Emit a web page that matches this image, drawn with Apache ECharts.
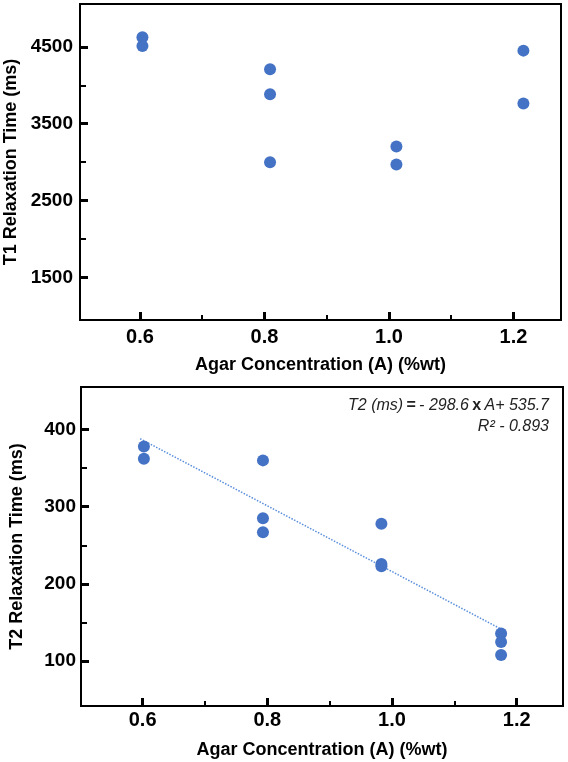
<!DOCTYPE html>
<html><head><meta charset="utf-8">
<script src="https://cdn.jsdelivr.net/npm/echarts@6/dist/echarts.min.js"></script>
<style>html,body{margin:0;padding:0;background:#fff}#c{width:568px;height:762px}</style>
</head><body><div id="c"></div>
<script>
// ---- Data ----
const t1Conc = [0.604, 0.604, 0.809, 0.809, 0.809, 1.012, 1.012, 1.216, 1.216];
const t1Vals = [4624, 4511, 4208, 3884, 3000, 3203, 2969, 4450, 3762];
const t2Conc = [0.602, 0.602, 0.793, 0.793, 0.793, 0.983, 0.983, 0.983, 1.175, 1.175, 1.175];
const t2Vals = [378, 362, 360, 285, 267, 278, 226, 223, 136, 125, 108];
const trendConc = [0.596, 1.174];
const trendVals = [388, 142];
// ---- Tick values ----
const xMajorTicks = [0.6, 0.8, 1.0, 1.2];
const xMinorTicks = [0.7, 0.9, 1.1];
const t1MajorTicks = [1500, 2500, 3500, 4500];
const t1MinorTicks = [2000, 3000, 4000];
const t2MajorTicks = [100, 200, 300, 400];
const t2MinorTicks = [150, 250, 350];
// ---- Text ----
const xTitle = 'Agar Concentration (A) (%wt)';
const t1Title = 'T1 Relaxation Time (ms)';
const t2Title = 'T2 Relaxation Time (ms)';

const FONT = '"Liberation Sans", Arial, Helvetica, sans-serif';
const BLUE = '#4472C4';

function zip(a, b) { return a.map((v, i) => [v, b[i]]); }

function mainX(grid, min, max, labelMargin, nameGap) {
  return {
    type: 'value', gridIndex: grid, position: 'bottom', min: min, max: max,
    axisLine: { show: true, onZero: false, lineStyle: { color: '#000', width: 2 } },
    axisTick: { show: true, inside: true, length: 8, customValues: xMajorTicks, lineStyle: { color: '#000', width: 3 } },
    axisLabel: { show: true, customValues: xMajorTicks, margin: labelMargin, formatter: v => v.toFixed(1),
      color: '#000', fontFamily: FONT, fontWeight: 'bold', fontSize: 20 },
    splitLine: { show: false },
    name: xTitle, nameLocation: 'middle', nameGap: nameGap,
    nameTextStyle: { color: '#000', fontFamily: FONT, fontWeight: 'bold', fontSize: 18 }
  };
}
function minorX(grid, min, max) {
  return {
    type: 'value', gridIndex: grid, position: 'bottom', min: min, max: max,
    axisLine: { show: false, onZero: false },
    axisTick: { show: true, inside: true, length: 5, customValues: xMinorTicks, lineStyle: { color: '#000', width: 2 } },
    axisLabel: { show: false }, splitLine: { show: false }
  };
}
function mainY(grid, min, max, ticks, title, labelMargin, nameGap) {
  return {
    type: 'value', gridIndex: grid, position: 'left', min: min, max: max,
    axisLine: { show: true, onZero: false, lineStyle: { color: '#000', width: 2 } },
    axisTick: { show: true, inside: true, length: 8, customValues: ticks, lineStyle: { color: '#000', width: 3 } },
    axisLabel: { show: true, customValues: ticks, margin: labelMargin, formatter: v => String(v),
      color: '#000', fontFamily: FONT, fontWeight: 'bold', fontSize: 19 },
    splitLine: { show: false },
    name: title, nameLocation: 'middle', nameGap: nameGap,
    nameTextStyle: { color: '#000', fontFamily: FONT, fontWeight: 'bold', fontSize: 18 }
  };
}
function minorY(grid, min, max, ticks) {
  return {
    type: 'value', gridIndex: grid, position: 'left', min: min, max: max,
    axisLine: { show: false, onZero: false },
    axisTick: { show: true, inside: true, length: 6, customValues: ticks, lineStyle: { color: '#000', width: 2 } },
    axisLabel: { show: false }, splitLine: { show: false }
  };
}

const chart = echarts.init(document.getElementById('c'), null, { renderer: 'canvas' });
chart.setOption({
  animation: false,
  backgroundColor: '#fff',
  grid: [
    { left: 80, right: 7, top: 4, bottom: 442, containLabel: false, outerBoundsMode: 'none',
      show: true, borderColor: '#000', borderWidth: 2, backgroundColor: 'transparent' },
    { left: 81, right: 5, top: 387, bottom: 56, containLabel: false, outerBoundsMode: 'none',
      show: true, borderColor: '#000', borderWidth: 2, backgroundColor: 'transparent' }
  ],
  xAxis: [
    mainX(0, 0.5037, 1.2764, 7, 36),
    minorX(0, 0.5037, 1.2764),
    mainX(1, 0.5011, 1.2743, 4, 35),
    minorX(1, 0.5011, 1.2743)
  ],
  yAxis: [
    mainY(0, 949, 5056, t1MajorTicks, t1Title, 7, 56),
    minorY(0, 949, 5056, t1MinorTicks),
    mainY(1, 42, 455, t2MajorTicks, t2Title, 5, 55),
    minorY(1, 42, 455, t2MinorTicks)
  ],
  series: [
    { type: 'scatter', xAxisIndex: 0, yAxisIndex: 0, data: zip(t1Conc, t1Vals),
      symbolSize: 12, itemStyle: { color: BLUE, opacity: 1 }, z: 3 },
    { type: 'line', xAxisIndex: 2, yAxisIndex: 2, data: zip(trendConc, trendVals),
      symbol: 'none', lineStyle: { type: 'dotted', color: '#5B8FDB', width: 1.5 }, z: 2 },
    { type: 'scatter', xAxisIndex: 2, yAxisIndex: 2, data: zip(t2Conc, t2Vals),
      symbolSize: 12, itemStyle: { color: BLUE, opacity: 1 }, z: 3 }
  ],
  graphic: [
    { type: 'text', x: 549, y: 406, z: 10,
      style: {
        text: '{i|T2 (ms)} {b|=} {i|- 298.6} {b|x} {i|A+ 535.7}',
        align: 'right', verticalAlign: 'middle',
        rich: {
          i: { fontStyle: 'italic', fontSize: 16, fontFamily: FONT, fill: '#222' },
          b: { fontWeight: 'bold', fontSize: 16, fontFamily: FONT, fill: '#222' }
        }
      } },
    { type: 'text', x: 549, y: 427, z: 10,
      style: {
        text: 'R² - 0.893', align: 'right', verticalAlign: 'middle',
        fontStyle: 'italic', fontSize: 16, fontFamily: FONT, fill: '#222'
      } }
  ]
});
</script>
</body></html>
